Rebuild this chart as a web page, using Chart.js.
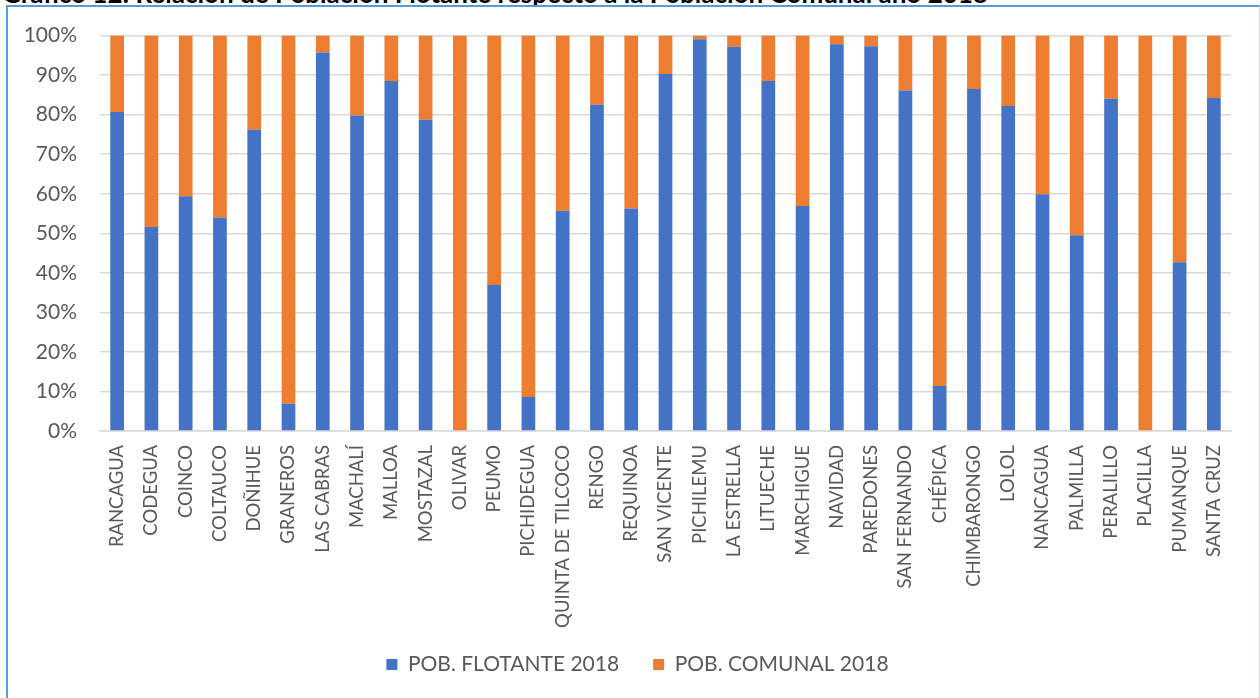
<!DOCTYPE html>
<html>
<head>
<meta charset="utf-8">
<script src="https://cdn.jsdelivr.net/npm/chart.js@4/dist/chart.umd.min.js"></script>
<style>
    html, body { margin: 0; padding: 0; background: #fff; overflow: hidden; }
    #wrap   { position: relative; width: 1260px; height: 698px; }
    #title  { position: absolute; left: 2px; top: -20px; font: bold 26px Lato, sans-serif; color: #000; white-space: nowrap; line-height: 26px; }
    #frame  { position: absolute; left: 6px; top: 5px; width: 1251px; height: 700px;
              border-left: 2px solid #5b9bd5; border-top: 2px solid #5b9bd5; border-right: 1px solid #d6dce4; }
    #chart  { position: absolute; left: 0; top: 0; }
</style>
</head>
<body>
<div id="wrap">
    <div id="title">Gráfico 12: Relación de Población Flotante respecto a la Población Comunal año 2018</div>
    <div id="frame"></div>
    <canvas id="chart" width="1260" height="698"></canvas>
</div>
<script>
// ── Datos ──
const COMUNAS = [
    'RANCAGUA', 'CODEGUA', 'COINCO', 'COLTAUCO', 'DOÑIHUE', 'GRANEROS', 'LAS CABRAS', 'MACHALÍ',
    'MALLOA', 'MOSTAZAL', 'OLIVAR', 'PEUMO', 'PICHIDEGUA', 'QUINTA DE TILCOCO', 'RENGO', 'REQUINOA',
    'SAN VICENTE', 'PICHILEMU', 'LA ESTRELLA', 'LITUECHE', 'MARCHIGUE', 'NAVIDAD', 'PAREDONES',
    'SAN FERNANDO', 'CHÉPICA', 'CHIMBARONGO', 'LOLOL', 'NANCAGUA', 'PALMILLA', 'PERALILLO',
    'PLACILLA', 'PUMANQUE', 'SANTA CRUZ'
];

// % población flotante
const POB_FLOTANTE = [
    80.7, 51.6, 59.4, 54.0, 76.2, 6.9, 95.7, 79.8,
    88.5, 78.7, 0, 36.9, 8.6, 55.7, 82.5, 56.3,
    90.3, 99.1, 97.2, 88.5, 56.9, 97.8, 97.3,
    86.1, 11.4, 86.5, 82.2, 59.9, 49.5, 84.0,
    0, 42.7, 84.2
];

// % población comunal
const POB_COMUNAL = [
    19.3, 48.4, 40.6, 46.0, 23.8, 93.1, 4.3, 20.2,
    11.5, 21.3, 100, 63.1, 91.4, 44.3, 17.5, 43.7,
    9.7, 0.9, 2.8, 11.5, 43.1, 2.2, 2.7,
    13.9, 88.6, 13.5, 17.8, 40.1, 50.5, 16.0,
    100, 57.3, 15.8
];

const Y_TICKS = [0, 10, 20, 30, 40, 50, 60, 70, 80, 90, 100];

const TXT   = '#595959';
const GRID  = '#d9d9d9';
const FONT  = 'Lato, "Open Sans", sans-serif';

// la leyenda va un poco más a la derecha y más arriba que el centro por defecto
const moverLeyenda = {
    id: 'moverLeyenda',
    afterLayout(chart) {
        const lg = chart.legend;
        lg.left += 22; lg.right += 22;
        lg.top  -= 11; lg.bottom -= 11;
    }
};

new Chart(document.getElementById('chart').getContext('2d'), {
    type: 'bar',
    data: {
        labels: COMUNAS,
        datasets: [
            { label: 'POB. FLOTANTE 2018', data: POB_FLOTANTE, backgroundColor: '#4472c4',
              barPercentage: 0.4, categoryPercentage: 1 },
            { label: 'POB. COMUNAL 2018',  data: POB_COMUNAL,  backgroundColor: '#ed7d31',
              barPercentage: 0.4, categoryPercentage: 1 }
        ]
    },
    plugins: [moverLeyenda],
    options: {
        responsive: false, animation: false,
        layout: { padding: { top: 33, left: 0, right: 29, bottom: 2 } },
        plugins: {
            legend: {
                position: 'bottom',
                labels: { boxWidth: 11, boxHeight: 11, padding: 34, color: TXT, font: { family: FONT, size: 21 } }
            },
            tooltip: { enabled: false }
        },
        scales: {
            x: {
                stacked: true,
                grid: { display: false, drawTicks: false },
                border: { color: GRID, width: 1.5 },
                ticks: { autoSkip: false, minRotation: 90, maxRotation: 90, padding: 14,
                         color: TXT, font: { family: FONT, size: 18.5 } },
                afterFit: s => { s.height = 200; }
            },
            y: {
                stacked: true, min: 0, max: 100,
                afterBuildTicks: s => { s.ticks = Y_TICKS.map(v => ({ value: v })); },
                grid: { color: GRID, lineWidth: 1.5, drawTicks: false },
                border: { display: false },
                ticks: { padding: 23, color: TXT, font: { family: FONT, size: 21 }, callback: v => v + '%' },
                afterFit: s => { s.width = 100; }
            }
        }
    }
});
</script>
</body>
</html>
